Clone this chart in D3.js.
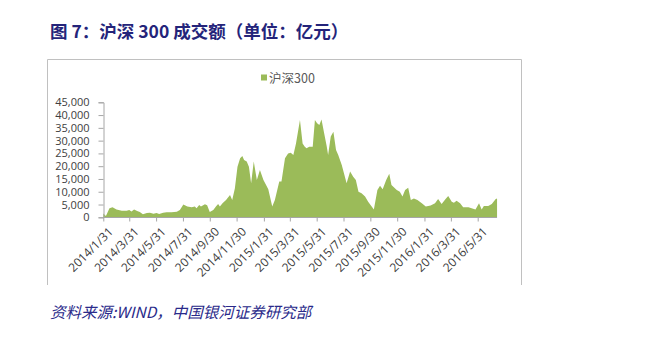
<!DOCTYPE html>
<html>
<head>
<meta charset="utf-8">
<script src="https://cdn.jsdelivr.net/npm/d3@7"></script>
<style>
  body { margin: 0; background: #fff; }
  svg { display: block; }
</style>
</head>
<body>
<script>
// 沪深300 成交额, 亿元
var dates = [
  "2014-01-31","2014-02-06","2014-02-14","2014-02-21","2014-03-02","2014-03-14","2014-03-25","2014-03-31",
  "2014-04-05","2014-04-11","2014-04-18","2014-04-24","2014-05-01","2014-05-10","2014-05-17","2014-05-25",
  "2014-06-01","2014-06-07","2014-06-16","2014-06-24","2014-07-05","2014-07-17","2014-07-24","2014-08-01",
  "2014-08-10","2014-08-20","2014-08-27","2014-08-31","2014-09-06","2014-09-10","2014-09-19","2014-09-24",
  "2014-09-30","2014-10-08","2014-10-14","2014-10-19","2014-10-23","2014-10-29","2014-11-06","2014-11-15",
  "2014-11-20","2014-11-26","2014-12-02","2014-12-08","2014-12-13","2014-12-17","2014-12-23","2014-12-28",
  "2015-01-02","2015-01-08","2015-01-15","2015-01-22","2015-01-30","2015-02-05","2015-02-10","2015-02-19",
  "2015-02-25","2015-03-07","2015-03-12","2015-03-20","2015-03-27","2015-04-02","2015-04-08","2015-04-14",
  "2015-04-23","2015-04-29","2015-05-04","2015-05-08","2015-05-14","2015-05-22","2015-05-27","2015-06-01",
  "2015-06-06","2015-06-11","2015-06-17","2015-06-23","2015-06-26","2015-07-02","2015-07-08","2015-07-14",
  "2015-07-19","2015-07-27","2015-08-01","2015-08-07","2015-08-15","2015-08-22","2015-08-28","2015-09-03",
  "2015-09-10","2015-09-18","2015-09-25","2015-10-03","2015-10-08","2015-10-16","2015-10-22","2015-10-28",
  "2015-11-05","2015-11-12","2015-11-17","2015-11-29","2015-12-06","2015-12-12","2015-12-18","2015-12-25",
  "2015-12-31","2016-01-07","2016-01-15","2016-01-25","2016-02-03","2016-02-14","2016-02-24","2016-03-02",
  "2016-03-10","2016-03-19","2016-03-25","2016-04-02","2016-04-07","2016-04-13","2016-04-21","2016-04-28",
  "2016-05-10","2016-05-17","2016-05-26","2016-06-03","2016-06-09","2016-06-14","2016-06-24","2016-07-02",
  "2016-07-11","2016-07-14"
];
var values = [
  1500, 500, 3500, 3900, 3100, 2600, 2600, 2900,
  2300, 3100, 2500, 2100, 1200, 1700, 1800, 1400,
  1700, 1300, 1800, 2000, 2000, 2200, 2900, 5000,
  4200, 3900, 4200, 3500, 4800, 4200, 5100, 4700,
  2100, 2900, 4200, 5200, 4200, 5500, 6800, 8700,
  6800, 11300, 19800, 23100, 24000, 22400, 21800, 19800,
  13300, 21800, 14600, 18500, 14600, 12600, 11000, 4200,
  6800, 14000, 14000, 23100, 25000, 25300, 24400, 28900,
  38100, 28900, 27600, 27000, 27600, 27600, 38100, 36800,
  36100, 38300, 32900, 27600, 24400, 31600, 33500, 26300,
  24400, 20500, 17200, 13300, 17900, 15900, 14600, 10000,
  9400, 8100, 6100, 4200, 3100, 10700, 12300, 11000,
  14600, 17000, 12600, 10700, 10000, 8100, 10700, 11600,
  6800, 7400, 6800, 5500, 4200, 4600, 5500, 7200,
  5200, 7200, 8300, 6100, 5700, 6500, 5500, 3900,
  3900, 3500, 3100, 5500, 3100, 4400, 4400, 5200,
  7200, 7400
];
var yTicks = [0, 5000, 10000, 15000, 20000, 25000, 30000, 35000, 40000, 45000];
var xTickDates = [
  "2014-01-31","2014-03-31","2014-05-31","2014-07-31","2014-09-30","2014-11-30",
  "2015-01-31","2015-03-31","2015-05-31","2015-07-31","2015-09-30","2015-11-30",
  "2016-01-31","2016-03-31","2016-05-31"
];
var seriesName = "沪深300";

var W = 653, H = 342;
var parse = d3.timeParse("%Y-%m-%d");
var fmtTick = d3.timeFormat("%Y/%-m/%-d");
var data = dates.map(function (d, i) { return { date: parse(d), value: values[i] }; });

var svg = d3.select("body").append("svg").attr("width", W).attr("height", H);

// title
svg.append("text")
  .attr("x", 50).attr("y", 38)
  .attr("font-family", "'Noto Sans CJK SC', sans-serif")
  .attr("font-weight", "bold")
  .attr("font-size", 17.5)
  .attr("fill", "#24247a")
  .text("图 7：沪深 300 成交额（单位：亿元）");

// chart frame (no bottom edge visible)
svg.append("path")
  .attr("d", "M47.5,285V59.5H521.5V285")
  .attr("fill", "none")
  .attr("stroke", "#c0c0c0")
  .attr("stroke-width", 1);

var x = d3.scaleTime()
  .domain([parse("2014-01-31"), parse("2016-05-31")])
  .range([103.3, 477.7]);
var y = d3.scaleLinear().domain([0, 45000]).range([217.3, 102.3]);

var area = d3.area()
  .x(function (d) { return x(d.date); })
  .y0(y(0))
  .y1(function (d) { return y(d.value); });

svg.append("path")
  .datum(data)
  .attr("d", area)
  .attr("fill", "#9bbb59");

// y axis
var yAxis = svg.append("g")
  .attr("transform", "translate(103.5,0)")
  .call(d3.axisLeft(y).tickValues(yTicks).tickSize(5).tickPadding(9)
    .tickFormat(d3.format(",")));
yAxis.select(".domain").attr("stroke", "#a6a6a6");
yAxis.selectAll(".tick line").attr("stroke", "#a6a6a6");
yAxis.selectAll("text")
  .attr("font-family", "'Open Sans', sans-serif")
  .attr("font-size", 11)
  .attr("fill", "#404040");

// x axis
var xAxis = svg.append("g")
  .attr("transform", "translate(0,217.5)")
  .call(d3.axisBottom(x).tickValues(xTickDates.map(parse)).tickSize(4)
    .tickSizeOuter(0).tickFormat(fmtTick));
xAxis.select(".domain")
  .attr("d", "M" + x(parse("2014-01-31")) + ",0H" + x(data[data.length - 1].date))
  .attr("stroke", "#a6a6a6");
xAxis.selectAll(".tick line").attr("stroke", "#a6a6a6");
xAxis.selectAll("text")
  .attr("font-family", "'Open Sans', sans-serif")
  .attr("font-size", 12)
  .attr("fill", "#404040")
  .attr("text-anchor", "end")
  .attr("dy", 0)
  .attr("transform", "translate(5,10) rotate(-45)");

// legend
svg.append("rect")
  .attr("x", 261).attr("y", 74.5).attr("width", 6).attr("height", 6)
  .attr("fill", "#9bbb59");
svg.append("text")
  .attr("x", 269).attr("y", 82.5)
  .attr("font-family", "'Noto Sans CJK SC', sans-serif")
  .attr("font-size", 12.5)
  .attr("fill", "#595959")
  .text(seriesName);

// source
svg.append("text")
  .attr("x", 50).attr("y", 318)
  .attr("font-family", "'Noto Sans CJK SC', sans-serif")
  .attr("font-style", "italic")
  .attr("font-size", 15.5)
  .attr("fill", "#2a2a8a")
  .text("资料来源:WIND，中国银河证券研究部");
</script>
</body>
</html>
